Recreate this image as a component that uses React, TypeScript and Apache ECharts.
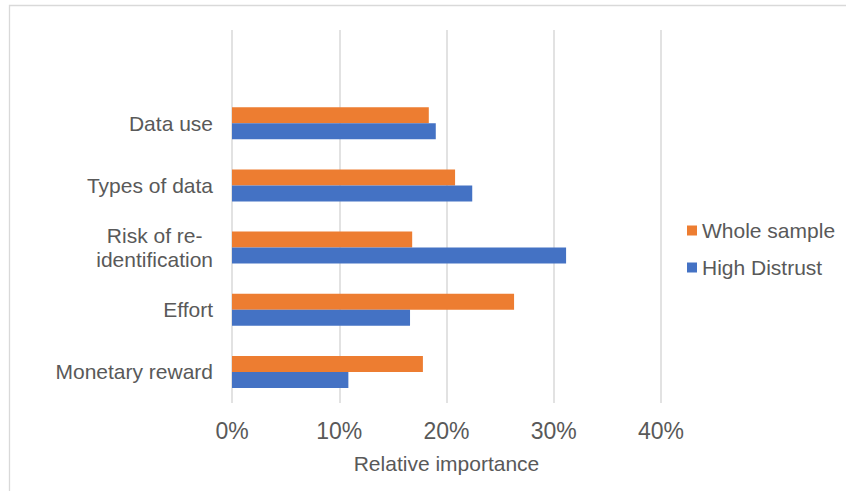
import React, { useEffect, useRef } from "react";
import * as echarts from "echarts";

const categories = [
  "Monetary reward",
  "Effort",
  "Risk of re-\nidentification",
  "Types of data",
  "Data use",
  "",
];
const wholeSample = [17.8, 26.3, 16.8, 20.8, 18.35, null];
const highDistrust = [10.85, 16.6, 31.15, 22.4, 19.0, null];
const legendNames = ["Whole sample", "High Distrust"];
const axisTitle = "Relative importance";

const FONT = "'Liberation Sans', Arial, sans-serif";
const TEXT = "#595959";

export default function App() {
  const ref = useRef<HTMLDivElement>(null);
  useEffect(() => {
    if (!ref.current) return;
    const chart = echarts.init(ref.current, null, { renderer: "svg" });
    chart.setOption({
      animation: false,
      backgroundColor: "#ffffff",
      textStyle: { fontFamily: FONT },
      graphic: [
        {
          type: "rect",
          shape: { x: 9.5, y: 5.5, width: 900, height: 600 },
          style: { fill: "none", stroke: "#D9D9D9", lineWidth: 1.3 },
          silent: true,
        },
      ],
      grid: {
        left: 232,
        right: 185,
        top: 30,
        bottom: 88,
        containLabel: false,
        outerBoundsMode: "none",
      },
      legend: {
        data: legendNames,
        orient: "vertical",
        left: 687,
        top: 220,
        padding: 0,
        itemWidth: 10,
        itemHeight: 10,
        itemGap: 16,
        icon: "rect",
        textStyle: { fontFamily: FONT, fontSize: 21, color: TEXT, lineHeight: 21 },
      },
      xAxis: {
        type: "value",
        min: 0,
        max: 40,
        interval: 10,
        name: axisTitle,
        nameLocation: "middle",
        nameGap: 50,
        nameTextStyle: { fontFamily: FONT, fontSize: 21, color: TEXT },
        axisLine: { show: false },
        axisTick: { show: false },
        axisLabel: {
          formatter: "{value}%",
          fontFamily: FONT,
          fontSize: 23,
          color: TEXT,
          margin: 16,
        },
        splitLine: { show: true, lineStyle: { color: "#D9D9D9", width: 1.5 } },
      },
      yAxis: {
        type: "category",
        data: categories,
        axisLine: { show: false },
        axisTick: { show: false },
        splitLine: { show: false },
        axisLabel: {
          margin: 19,
          fontFamily: FONT,
          fontSize: 21,
          color: TEXT,
          lineHeight: 24,
          formatter: (v: string) =>
            v
              .split("\n")
              .map((s) => `{c|${s}}`)
              .join("\n"),
          rich: {
            c: {
              align: "center",
              fontFamily: FONT,
              fontSize: 21,
              color: TEXT,
              lineHeight: 24,
            },
          },
        },
      },
      series: [
        {
          name: "Whole sample",
          type: "bar",
          data: wholeSample,
          barWidth: 16,
          barGap: "0%",
          itemStyle: { color: "#ED7D31" },
        },
        {
          name: "High Distrust",
          type: "bar",
          data: highDistrust,
          barWidth: 16,
          barGap: "0%",
          itemStyle: { color: "#4472C4" },
        },
      ],
    });
    return () => chart.dispose();
  }, []);
  return (
    <div
      ref={ref}
      style={{ position: "fixed", left: 0, top: 0, width: 846, height: 491 }}
    />
  );
}
